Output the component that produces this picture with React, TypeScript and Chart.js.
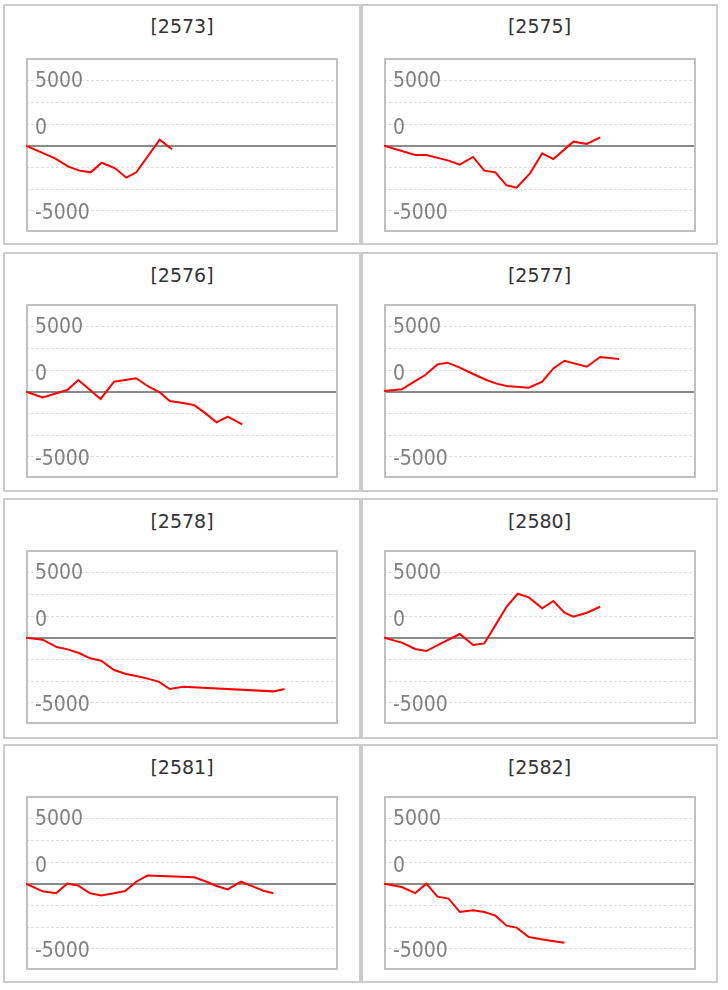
import React, { useEffect, useRef } from "react";
import { Chart, registerables } from "chart.js";
Chart.register(...registerables);

// ---- data ----
const titles = ["[2573]", "[2575]", "[2576]", "[2577]", "[2578]", "[2580]", "[2581]", "[2582]"];

const days2573 = [0, 2.6, 3.8, 4.8, 5.8, 6.8, 8.0, 9.0, 9.9, 12.0, 13.1];
const vals2573 = [0, -970, -1610, -1920, -2050, -1310, -1740, -2460, -2050, 460, -280];

const days2575 = [0, 2.8, 3.8, 5.8, 6.8, 8.0, 9.0, 10.0, 11.0, 11.9, 13.1, 14.2, 15.2, 17.0, 18.2, 19.4];
const vals2575 = [0, -720, -720, -1150, -1460, -870, -1920, -2050, -3050, -3230, -2130, -590, -1030, 310, 130, 640];

const days2576 = [0, 1.5, 3.7, 4.7, 6.7, 7.9, 9.9, 10.9, 12.0, 12.9, 14.1, 15.1, 16.0, 17.1, 18.1, 19.4];
const vals2576 = [0, -440, 130, 900, -560, 770, 1030, 440, -50, -720, -870, -1030, -1590, -2360, -1920, -2510];

const days2577 = [0, 1.6, 2.6, 3.7, 4.8, 5.7, 6.8, 8.0, 9.2, 10.1, 11.0, 13.0, 14.2, 15.2, 16.2, 18.2, 19.4, 21.1];
const vals2577 = [50, 180, 720, 1280, 2100, 2230, 1850, 1360, 900, 620, 440, 310, 770, 1790, 2380, 1920, 2670, 2510];

const days2578 = [0, 1.5, 2.75, 3.75, 4.8, 5.75, 6.75, 7.9, 9.0, 9.9, 10.9, 11.9, 12.9, 14.1, 22.2, 23.2];
const vals2578 = [0, -150, -720, -900, -1200, -1590, -1770, -2490, -2790, -2950, -3150, -3380, -3950, -3770, -4130, -3950];

const days2580 = [0, 1.6, 2.8, 3.8, 5.0, 6.8, 8.0, 9.0, 10.1, 11.0, 12.0, 13.0, 14.2, 15.2, 16.2, 17.0, 18.2, 19.4];
const vals2580 = [0, -380, -870, -1030, -490, 280, -560, -440, 1100, 2380, 3380, 3100, 2260, 2820, 1920, 1610, 1920, 2380];

const days2581 = [0, 1.5, 2.7, 3.7, 4.7, 5.75, 6.75, 7.9, 8.9, 9.9, 10.9, 15.1, 16.2, 17.1, 18.1, 19.3, 20.4, 21.3, 22.2];
const vals2581 = [0, -590, -740, 0, -150, -740, -900, -740, -560, 150, 620, 490, 150, -180, -440, 150, -230, -540, -740];

const days2582 = [0, 1.6, 2.8, 3.8, 4.8, 5.8, 6.8, 8.0, 9.0, 10.0, 11.0, 11.9, 13.0, 14.0, 15.1, 16.2];
const vals2582 = [0, -260, -720, 0, -1000, -1150, -2180, -2050, -2180, -2460, -3230, -3380, -4100, -4260, -4410, -4540];

const seriesDays = [days2573, days2575, days2576, days2577, days2578, days2580, days2581, days2582];
const seriesVals = [vals2573, vals2575, vals2576, vals2577, vals2578, vals2580, vals2581, vals2582];

const yLabelValues = [5000, 0, -5000];
const yLabelTexts = ["5000", "0", "-5000"];
const gridValues = [-5000, -10000 / 3, -5000 / 3, 0, 5000 / 3, 10000 / 3, 5000];
const X_MIN = 0;
const X_MAX = 28;
const Y_MIN = -6640;
const Y_MAX = 6745;

// ---- layout ----
const colLeft = [3, 361];
const colWidth = [358, 357];
const rowTop = [4, 252, 498, 744];
const rowHeight = [241, 240, 241, 239];
const plotLeft = [26, 384];
const plotTop = [58, 304, 550, 796];
const titleCenter = [27.3, 275.7, 521.7, 767.7];
const PLOT_W = 312;
const PLOT_H = 174;

const framePlugin = {
  id: "frameAndLabels",
  beforeDatasetsDraw(chart: any) {
    const { ctx, chartArea: a, scales } = chart;
    const y = scales.y;
    ctx.save();
    // y labels
    ctx.font = '21px "DejaVu Sans Condensed", "Liberation Sans", sans-serif';
    ctx.fillStyle = "#808080";
    ctx.textBaseline = "middle";
    ctx.textAlign = "left";
    yLabelValues.forEach((v, i) => {
      const off = v === 0 ? -17 : v < 0 ? 2.5 : 0.5;
      ctx.fillText(yLabelTexts[i], a.left + 9, y.getPixelForValue(v) + off);
    });
    // zero baseline
    const z = Math.round(y.getPixelForValue(0));
    ctx.strokeStyle = "#8a8a8a";
    ctx.lineWidth = 2;
    ctx.beginPath();
    ctx.moveTo(a.left, z);
    ctx.lineTo(a.right, z);
    ctx.stroke();
    // frame
    ctx.strokeStyle = "#c0c0c0";
    ctx.lineWidth = 2;
    ctx.strokeRect(a.left + 1, a.top + 1, a.width - 2, a.height - 2);
    ctx.restore();
  },
};

function Panel({ idx }: { idx: number }) {
  const ref = useRef<HTMLCanvasElement | null>(null);
  useEffect(() => {
    if (!ref.current) return;
    const days = seriesDays[idx];
    const vals = seriesVals[idx];
    const chart = new Chart(ref.current, {
      type: "line",
      data: {
        datasets: [
          {
            data: days.map((d, i) => ({ x: d, y: vals[i] })),
            borderColor: "#ff0000",
            borderWidth: 2,
            pointRadius: 0,
            tension: 0,
            fill: false,
          },
        ],
      },
      options: {
        animation: false,
        responsive: false,
        events: [],
        layout: { padding: 0 },
        plugins: { legend: { display: false }, tooltip: { enabled: false }, title: { display: false } },
        scales: {
          x: { type: "linear", min: X_MIN, max: X_MAX, display: false },
          y: {
            type: "linear",
            min: Y_MIN,
            max: Y_MAX,
            afterFit: (s: any) => {
              s.width = 0;
            },
            afterBuildTicks: (s: any) => {
              s.ticks = gridValues.map((v) => ({ value: v }));
            },
            ticks: { display: false },
            border: { display: false, dash: [3, 2] },
            grid: {
              drawTicks: false,
              lineWidth: 1,
              color: (c: any) => (c.tick && Math.abs(c.tick.value) < 1e-6 ? "rgba(0,0,0,0)" : "#dedede"),
            },
          },
        },
      } as any,
      plugins: [framePlugin],
    });
    return () => chart.destroy();
  }, [idx]);

  const col = idx % 2;
  const row = Math.floor(idx / 2);
  return (
    <>
      <div
        style={{
          position: "absolute",
          left: colLeft[col],
          top: rowTop[row],
          width: colWidth[col],
          height: rowHeight[row],
          boxSizing: "border-box",
          border: "2px solid #cccccc",
        }}
      />
      <div
        style={{
          position: "absolute",
          left: colLeft[col],
          width: colWidth[col],
          top: titleCenter[row] - 12,
          height: 24,
          lineHeight: "24px",
          textAlign: "center",
          font: '19px "DejaVu Sans", Verdana, sans-serif',
          color: "#333333",
        }}
      >
        {titles[idx]}
      </div>
      <canvas
        ref={ref}
        width={PLOT_W}
        height={PLOT_H}
        style={{ position: "absolute", left: plotLeft[col], top: plotTop[row], width: PLOT_W, height: PLOT_H }}
      />
    </>
  );
}

export default function App() {
  return (
    <div style={{ position: "absolute", left: 0, top: 0, width: 728, height: 990, background: "#ffffff" }}>
      {titles.map((_, i) => (
        <Panel key={i} idx={i} />
      ))}
    </div>
  );
}
